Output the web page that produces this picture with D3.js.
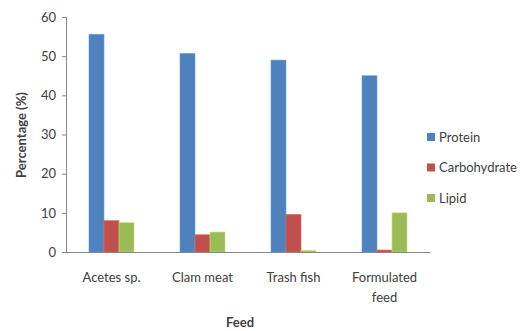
<!DOCTYPE html>
<html>
<head>
<meta charset="utf-8">
<script src="https://cdn.jsdelivr.net/npm/d3@7"></script>
<style>
  body { margin: 0; background: #fff; }
  text { font-family: Lato, "Open Sans", sans-serif; fill: #404040; }
</style>
</head>
<body>
<svg id="chart" width="529" height="331"></svg>
<script>
// chart values
const feeds = ["Acetes sp.", "Clam meat", "Trash fish", "Formulated feed"];
const seriesNames = ["Protein", "Carbohydrate", "Lipid"];
const protein = [55.6, 50.7, 49.0, 45.0];
const carbohydrate = [8.0, 4.4, 9.6, 0.5];
const lipid = [7.5, 5.1, 0.4, 10.0];
const yTicks = [0, 10, 20, 30, 40, 50, 60];
const colors = ["#4F81BD", "#C0504D", "#9BBB59"];

const values = [protein, carbohydrate, lipid];
const svg = d3.select("#chart");
const margin = { left: 66, top: 17, right: 99, bottom: 79 };
const width = 529 - margin.left - margin.right;
const height = 331 - margin.top - margin.bottom;
const g = svg.append("g").attr("transform", `translate(${margin.left},${margin.top})`);

const x = d3.scaleBand().domain(feeds).range([0, width]).paddingInner(0).paddingOuter(0);
const x1 = d3.scaleBand().domain(seriesNames).range([0, 45]);
const y = d3.scaleLinear().domain([0, 60]).range([height, 0]);

// bars
feeds.forEach((f, i) => {
  const grp = g.append("g").attr("transform", `translate(${x(f) + (x.bandwidth() - 45) / 2},0)`);
  seriesNames.forEach((s, j) => {
    const v = values[j][i];
    grp.append("rect")
      .attr("x", x1(s))
      .attr("y", y(v))
      .attr("width", x1.bandwidth())
      .attr("height", y(0) - y(v))
      .attr("fill", colors[j])
      .attr("stroke", d3.color(colors[j]).brighter(0.6))
      .attr("stroke-width", 0.6);
  });
});

// y axis
const yAxis = g.append("g").call(d3.axisLeft(y).tickValues(yTicks).tickSize(4).tickPadding(6));
yAxis.selectAll("path, line").attr("stroke", "#868686");
yAxis.selectAll("text").attr("font-size", 13).style("font-family", "Lato, sans-serif").attr("fill", "#404040");

// x axis
const xAxis = g.append("g").attr("transform", `translate(0,${height})`)
  .call(d3.axisBottom(x).tickSize(0).tickPadding(0));
xAxis.select("path").attr("stroke", "#868686");
xAxis.selectAll(".tick text").remove();
xAxis.selectAll(".tick").each(function(d) {
  const t = d3.select(this).append("text")
    .attr("text-anchor", "middle").attr("font-size", 13).attr("fill", "#404040");
  const lines = d === "Formulated feed" ? ["Formulated", "feed"] : [d];
  lines.forEach((l, k) => t.append("tspan").attr("x", 0).attr("y", 30 + k * 20).text(l));
});

// axis titles
svg.append("text").attr("x", 240).attr("y", 327).attr("text-anchor", "middle")
  .attr("font-size", 13).attr("font-weight", "bold").text("Feed");
svg.append("text").attr("transform", "translate(26,135) rotate(-90)").attr("text-anchor", "middle")
  .attr("font-size", 13).attr("font-weight", "bold").text("Percentage (%)");

// legend
const legend = svg.append("g").attr("transform", "translate(427,137)");
seriesNames.forEach((s, j) => {
  const row = legend.append("g").attr("transform", `translate(0,${j * 30.5})`);
  row.append("rect").attr("x", 0).attr("y", -4).attr("width", 8).attr("height", 8).attr("fill", colors[j]);
  row.append("text").attr("x", 12).attr("y", 4.5).attr("font-size", 13).text(s);
});
</script>
</body>
</html>
